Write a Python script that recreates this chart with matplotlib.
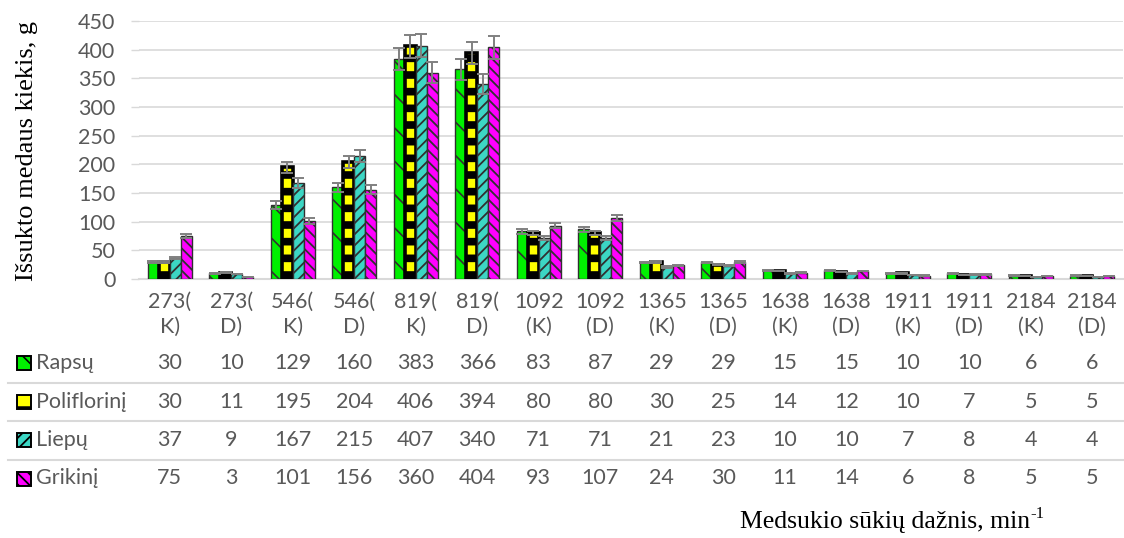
import matplotlib
matplotlib.use("Agg")
import matplotlib.pyplot as plt
from matplotlib.patches import Rectangle
from matplotlib.transforms import blended_transform_factory, offset_copy
import numpy as np

# --- data -------------------------------------------------------------
categories = ["273(\nK)", "273(\nD)", "546(\nK)", "546(\nD)", "819(\nK)", "819(\nD)",
              "1092\n(K)", "1092\n(D)", "1365\n(K)", "1365\n(D)", "1638\n(K)", "1638\n(D)",
              "1911\n(K)", "1911\n(D)", "2184\n(K)", "2184\n(D)"]
series_names = ["Rapsų", "Poliflorinį", "Liepų", "Grikinį"]
rapsu = [30, 10, 129, 160, 383, 366, 83, 87, 29, 29, 15, 15, 10, 10, 6, 6]
poliflorinis = [30, 11, 195, 204, 406, 394, 80, 80, 30, 25, 14, 12, 10, 7, 5, 5]
liepu = [37, 9, 167, 215, 407, 340, 71, 71, 21, 23, 10, 10, 7, 8, 4, 4]
grikinis = [75, 3, 101, 156, 360, 404, 93, 107, 24, 30, 11, 14, 6, 8, 5, 5]
error_fraction = 0.05
yticks = [0, 50, 100, 150, 200, 250, 300, 350, 400, 450]

series_values = [rapsu, poliflorinis, liepu, grikinis]

# --- styling ------------------------------------------------------------
W, H = 1124, 538
TXT = "#595959"
GRID = "#D9D9D9"
SANS = "Lato"
SERIF = "Liberation Serif"
FS = 15.5

styles = [
    dict(face="#00F000", edge="#303030", hatch="\\", hlw=1.2, lw=1.0),
    dict(face="#FFFF00", edge="#000000", hatch="-", hlw=5.5, lw=2.6),
    dict(face="#3CD6C4", edge="#303030", hatch="///", hlw=1.3, lw=1.0),
    dict(face="#FF00FF", edge="#303030", hatch="\\\\\\", hlw=1.3, lw=1.0),
]

fig = plt.figure(figsize=(W / 100, H / 100), dpi=100)
ax = fig.add_axes([139 / W, 1 - 279 / H, (1123 - 139) / W, (279 - 21) / H])

x = np.arange(len(categories))
bw = 0.178
offsets = (np.arange(4) - 1.5) * bw

for vals, off, st in zip(series_values, offsets, styles):
    vals = np.array(vals, dtype=float)
    with plt.rc_context({"hatch.linewidth": st["hlw"]}):
        ax.bar(x + off, vals, width=bw, color=st["face"], edgecolor=st["edge"],
               linewidth=st["lw"], hatch=st["hatch"], zorder=3)
    ax.errorbar(x + off, vals, yerr=vals * error_fraction, fmt="none",
                ecolor="#808080", elinewidth=1.4, capsize=4.5, capthick=1.4, zorder=4)

ax.set_xlim(-0.5, len(categories) - 0.5)
ax.set_ylim(0, 450)
ax.set_yticks(yticks)
ax.set_yticklabels([str(t) for t in yticks], fontsize=FS, family=SANS, color=TXT)
ax.tick_params(axis="y", length=6, width=1, color=GRID, pad=11)
ax.set_xticks([])
ax.grid(axis="y", color=GRID, linewidth=1.2, zorder=0)
for side in ("top", "right", "left"):
    ax.spines[side].set_visible(False)
ax.spines["bottom"].set_color(GRID)
ax.spines["bottom"].set_linewidth(1.5)
ax.set_axisbelow(True)

# --- data table below the plot -----------------------------------------
tr = blended_transform_factory(ax.transData, fig.transFigure)


def fy(px):
    return 1 - px / H


for xi, lab in zip(x, categories):
    top, bottom = lab.split("\n")
    ax.text(xi, fy(302), top, transform=tr, ha="center", va="center",
            fontsize=FS, family=SANS, color=TXT)
    ax.text(xi, fy(327), bottom, transform=tr, ha="center", va="center",
            fontsize=FS, family=SANS, color=TXT)

row_y = [363, 401.5, 440, 478.5]
for name, vals, st, ry in zip(series_names, series_values, styles, row_y):
    for xi, v in zip(x, vals):
        ax.text(xi, fy(ry), str(v), transform=tr, ha="center", va="center",
                fontsize=FS, family=SANS, color=TXT)
    fig.text(36 / W, fy(ry), name, ha="left", va="center",
             fontsize=FS, family=SANS, color=TXT)
    with plt.rc_context({"hatch.linewidth": min(st["hlw"], 3.0)}):
        key = Rectangle((17 / W, fy(ry + 7)), 14 / W, 14 / H, transform=fig.transFigure,
                        facecolor=st["face"], edgecolor="#000000", linewidth=1.4,
                        hatch=st["hatch"])
    fig.add_artist(key)

for ly in [382.5, 421, 459.5]:
    fig.add_artist(plt.Line2D([8 / W, 1123 / W], [fy(ly), fy(ly)],
                              transform=fig.transFigure, color=GRID, linewidth=1.5))

# --- axis titles ---------------------------------------------------------
fig.text(27 / W, fy(151), "Išsukto medaus kiekis, g", rotation=90,
         ha="center", va="center", fontsize=19, family=SERIF, color="black")
xl = fig.text(740 / W, fy(522), "Medsukio sūkių dažnis, min",
              ha="left", va="center", fontsize=18.5, family=SERIF, color="black")
fig.canvas.draw()
bb = xl.get_window_extent()
fig.text(bb.x1 / W, fy(514), "-1", ha="left", va="center",
         fontsize=12, family=SERIF, color="black")

fig.savefig("out.png", dpi=100)
